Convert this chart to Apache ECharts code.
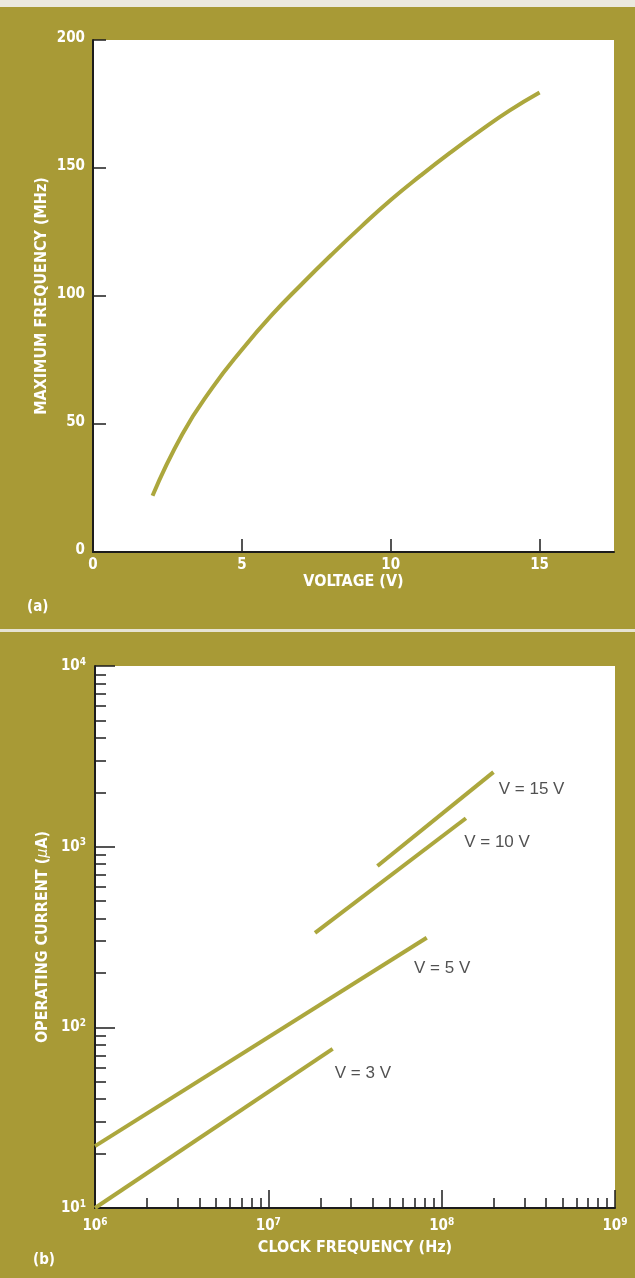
<!DOCTYPE html>
<html>
<head>
<meta charset="utf-8">
<script src="https://cdn.jsdelivr.net/npm/echarts@6/dist/echarts.min.js"></script>
<style>
  html, body { margin: 0; padding: 0; background: #a99b38; }
  #chart { width: 635px; height: 1278px; }
</style>
</head>
<body>
<div id="chart"></div>
<script>
// ── (a) maximum frequency vs supply voltage ─────────────────────────────────
const voltage = [2, 3, 4, 5, 6, 7, 8, 9, 10, 11, 12, 13, 14, 15];
const maxFreq = [22, 46, 64, 79, 92.5, 104.5, 116, 127, 137.5, 147, 156, 164.5, 172.5, 179.5];

// ── (b) operating current vs clock frequency (one segment per voltage) ──────
const curveNames   = ['V = 3 V', 'V = 5 V', 'V = 10 V', 'V = 15 V'];
const clockStart   = [1e6, 1e6, 1.86e7, 4.26e7];
const clockEnd     = [2.35e7, 8.2e7, 1.38e8, 1.99e8];
const currentStart = [10, 22, 333, 781];
const currentEnd   = [76, 313, 1436, 2587];
const labelClock   = [2.4e7, 6.88e7, 1.34e8, 2.12e8];
const labelCurrent = [56, 212, 1057, 2075];

// ── tick values ─────────────────────────────────────────────────────────────
const voltLabels     = [0, 5, 10, 15];
const voltTicks      = [5, 10, 15];
const clockDecades   = [1e6, 1e7, 1e8, 1e9];
const currentDecades = [1e1, 1e2, 1e3, 1e4];
const minorSteps     = [2, 3, 4, 5, 6, 7, 8, 9];

const minorOf = decades => decades.slice(0, -1).flatMap(d => minorSteps.map(m => m * d));

const OLIVE = '#a89a36';
const LINE  = '#aca73d';
const AXIS  = '#1c1c1c';
const FONT  = '"DejaVu Sans Condensed", "DejaVu Sans", sans-serif';

const white     = { color: '#fff', fontFamily: FONT, fontWeight: 'bold', fontSize: 15 };
const nameStyle = { color: '#fff', fontFamily: FONT, fontWeight: 'bold', fontSize: 16 };
const axisLine  = { show: true, onZero: false, lineStyle: { color: AXIS, width: 2 } };
const tickLine  = { color: AXIS, width: 1.5 };

const pow = v => '{b|10}{s|' + Math.round(Math.log10(v)) + '}';
const powRich = {
    b: { ...white, fontSize: 15, lineHeight: 18 },
    s: { ...white, fontSize: 10, lineHeight: 10, verticalAlign: 'top' }
};

const chart = echarts.init(document.getElementById('chart'), null, { renderer: 'canvas' });

chart.setOption({
    backgroundColor: OLIVE,
    animation: false,
    grid: [
        { left: 93, top: 40, right: 21, bottom: 726, show: true, backgroundColor: '#fff', borderWidth: 0, outerBoundsMode: 'none' },
        { left: 95, top: 666, right: 20, bottom: 70, show: true, backgroundColor: '#fff', borderWidth: 0, outerBoundsMode: 'none' }
    ],
    xAxis: [
        {
            gridIndex: 0, type: 'value', min: 0, max: 17.5, position: 'bottom',
            axisLine,
            axisTick: { show: true, inside: true, length: 13, customValues: voltTicks, lineStyle: tickLine },
            axisLabel: { customValues: voltLabels, margin: 6, ...white },
            splitLine: { show: false },
            name: 'VOLTAGE (V)', nameLocation: 'middle', nameGap: 22, nameMoveOverlap: false,
            nameTextStyle: nameStyle
        },
        {
            gridIndex: 1, type: 'log', logBase: 10, min: 1e6, max: 1e9, position: 'bottom',
            axisLine,
            axisTick: { show: true, inside: true, length: 18, customValues: clockDecades, lineStyle: tickLine },
            axisLabel: { customValues: clockDecades, margin: 9, formatter: pow, rich: powRich, ...white },
            splitLine: { show: false },
            name: 'CLOCK FREQUENCY (Hz)', nameLocation: 'middle', nameGap: 32, nameMoveOverlap: false,
            nameTextStyle: nameStyle
        },
        {
            gridIndex: 1, type: 'log', logBase: 10, min: 1e6, max: 1e9, position: 'bottom',
            axisLine: { show: false },
            axisTick: { show: true, inside: true, length: 10, customValues: minorOf(clockDecades), lineStyle: tickLine },
            axisLabel: { show: false },
            splitLine: { show: false }
        }
    ],
    yAxis: [
        {
            gridIndex: 0, type: 'value', min: 0, max: 200, interval: 50, position: 'left',
            axisLine,
            axisTick: { show: true, inside: true, length: 13, lineStyle: tickLine },
            axisLabel: { margin: 8, verticalAlign: 'bottom', lineHeight: 4, ...white },
            splitLine: { show: false },
            name: 'MAXIMUM FREQUENCY (MHz)', nameLocation: 'middle', nameGap: 43, nameMoveOverlap: false,
            nameTextStyle: nameStyle
        },
        {
            gridIndex: 1, type: 'log', logBase: 10, min: 10, max: 1e4, position: 'left',
            axisLine,
            axisTick: { show: true, inside: true, length: 20, customValues: currentDecades, lineStyle: tickLine },
            axisLabel: { customValues: currentDecades, margin: 9, formatter: pow, rich: powRich, ...white },
            splitLine: { show: false },
            name: 'OPERATING CURRENT ({mu|μ}A)', nameLocation: 'middle', nameGap: 44, nameMoveOverlap: false,
            nameTextStyle: {
                ...nameStyle,
                rich: { mu: { ...nameStyle, fontStyle: 'italic', fontWeight: 'normal' } }
            }
        },
        {
            gridIndex: 1, type: 'log', logBase: 10, min: 10, max: 1e4, position: 'left',
            axisLine: { show: false },
            axisTick: { show: true, inside: true, length: 11, customValues: minorOf(currentDecades), lineStyle: tickLine },
            axisLabel: { show: false },
            splitLine: { show: false }
        }
    ],
    graphic: [
        { type: 'rect', left: 0, top: 0, shape: { width: 635, height: 7 }, style: { fill: '#ebe9df' } },
        { type: 'rect', left: 0, top: 629, shape: { width: 635, height: 3 }, style: { fill: '#e6e3d2' } },
        { type: 'text', left: 27, top: 600, style: { text: '(a)', fill: '#fff', font: 'bold 15px ' + FONT } },
        { type: 'text', left: 33, top: 1253, style: { text: '(b)', fill: '#fff', font: 'bold 15px ' + FONT } }
    ],
    series: [
        {
            type: 'line', xAxisIndex: 0, yAxisIndex: 0,
            data: voltage.map((v, i) => [v, maxFreq[i]]),
            smooth: 0.5, showSymbol: false, silent: true,
            lineStyle: { color: LINE, width: 4 }
        },
        ...curveNames.map((n, i) => ({
            type: 'line', name: n, xAxisIndex: 1, yAxisIndex: 1,
            data: [[clockStart[i], currentStart[i]], [clockEnd[i], currentEnd[i]]],
            showSymbol: false, silent: true,
            lineStyle: { color: LINE, width: 4 }
        })),
        {
            type: 'scatter', xAxisIndex: 1, yAxisIndex: 1, silent: true,
            symbolSize: 1, itemStyle: { color: 'rgba(0,0,0,0)' },
            data: curveNames.map((n, i) => [labelClock[i], labelCurrent[i], n]),
            label: {
                show: true, position: 'right', distance: 0,
                formatter: p => p.value[2],
                color: '#262626', fontFamily: '"Liberation Sans", Arial, sans-serif', fontSize: 17
            }
        }
    ]
});
</script>
</body>
</html>
